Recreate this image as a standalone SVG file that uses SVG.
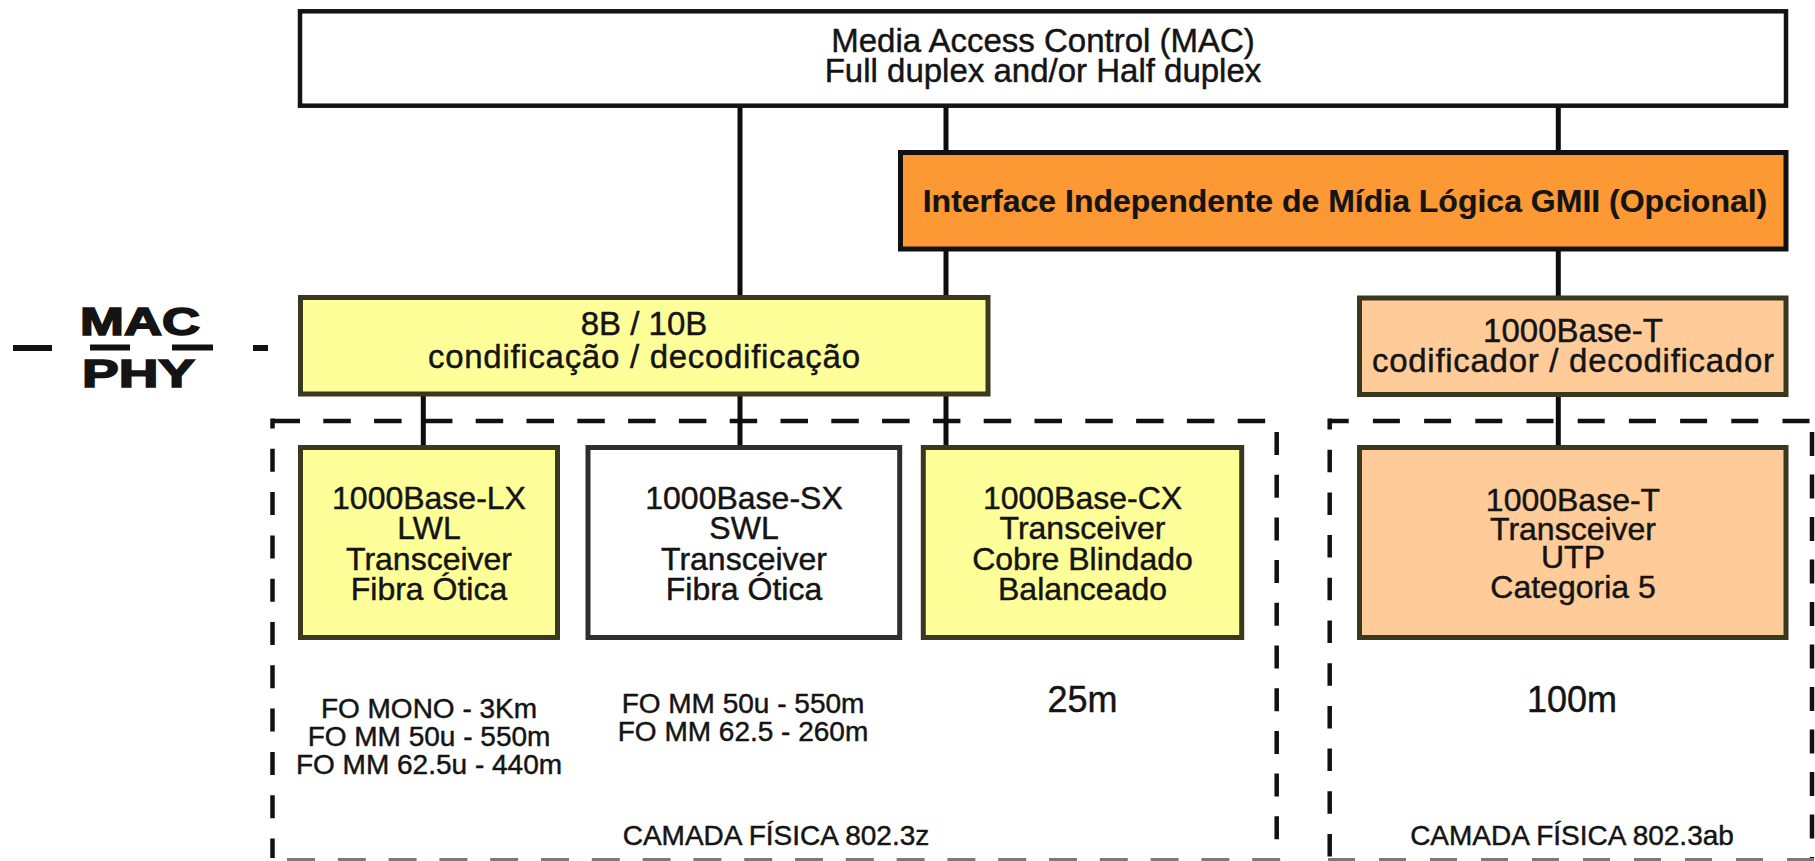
<svg xmlns="http://www.w3.org/2000/svg" width="1815" height="861" viewBox="0 0 1815 861">
  <style>
    text { font-family: "Liberation Sans", Arial, sans-serif; fill: #141414; stroke: #141414; stroke-width: 0.45; text-anchor: middle; }
    .box { stroke-width: 5; }
    .mac { fill: #ffffff; stroke: #141414; stroke-width: 4.5; }
    .gmii { fill: #fd9934; stroke: #111111; }
    .yellow { fill: #ffff99; stroke: #3b3820; }
    .peach { fill: #ffcc99; stroke: #3b3820; }
    .white { fill: #ffffff; stroke: #2e2e2e; }
    .t28 { font-size: 28px; }
    .t32 { font-size: 32px; }
    .t33 { font-size: 33px; }
    .t36 { font-size: 36px; }
    .bold { font-weight: bold; stroke-width: 0.2; }
    .heavy { font-weight: bold; font-size: 38px; stroke-width: 1.6; }
    .link { stroke: #0d0d0d; stroke-width: 5; fill: none; }
    .frame { stroke: #111111; stroke-width: 4.5; fill: none; }
    .frame-edge { stroke: #7a7a7a; stroke-width: 4; fill: none; }
    .sep { fill: #111111; }
  </style>

  <!-- MAC / PHY boundary label -->
  <g id="mac-phy-label">
    <text x="140" y="335" class="heavy" textLength="120" lengthAdjust="spacingAndGlyphs">MAC</text>
    <text x="138.5" y="387" class="heavy" textLength="113" lengthAdjust="spacingAndGlyphs">PHY</text>
    <rect class="sep" x="13" y="345" width="39" height="6"/>
    <rect class="sep" x="90" y="344.5" width="40" height="6"/>
    <rect class="sep" x="172" y="344.5" width="41" height="6"/>
    <rect class="sep" x="253" y="345" width="15" height="6"/>
  </g>

  <!-- physical layer frames (dashed) -->
  <g id="layer-802-3z">
    <path class="frame" d="M272.5 421 H1266" stroke-dasharray="27.5 23.3"/>
    <path class="frame" d="M272.5 418.5 V858" stroke-dasharray="23 20.3" stroke-dashoffset="13"/>
    <path class="frame" d="M1276.7 432 V858" stroke-dasharray="23 19.7"/>
    <path class="frame-edge" d="M287 860 H1281" stroke-dasharray="28 22.8"/>
    <text x="776" y="845" class="t28">CAMADA FÍSICA 802.3z</text>
  </g>
  <g id="layer-802-3ab">
    <path class="frame" d="M1329.7 421 H1815" stroke-dasharray="27 24.2" stroke-dashoffset="8"/>
    <path class="frame" d="M1329.7 418.5 V858" stroke-dasharray="22.5 20.2" stroke-dashoffset="11.5"/>
    <path class="frame" d="M1812 432 V858" stroke-dasharray="24 18.5"/>
    <path class="frame-edge" d="M1328 860 H1815" stroke-dasharray="27 24"/>
    <text x="1572" y="845" class="t28">CAMADA FÍSICA 802.3ab</text>
  </g>

  <!-- connectors -->
  <g id="connectors">
    <path class="link" d="M423.3 394 V447"/>
    <path class="link" d="M740 107 V447"/>
    <path class="link" d="M946 107 V447"/>
    <path class="link" d="M1558.3 107 V447"/>
  </g>

  <g id="mac">
    <rect class="mac" x="300" y="11.3" width="1486" height="94.4"/>
    <text x="1043" y="52" class="t33">Media Access Control (MAC)</text>
    <text x="1043" y="82" class="t33">Full duplex and/or Half duplex</text>
  </g>

  <g id="gmii">
    <rect class="box gmii" x="900.5" y="152.5" width="885.5" height="96.5"/>
    <text x="1345" y="212" class="bold" style="font-size:32px">Interface Independente de Mídia Lógica GMII (Opcional)</text>
  </g>

  <g id="pcs-8b10b">
    <rect class="box yellow" x="300.5" y="297.5" width="687.5" height="96.5"/>
    <text x="644" y="335" class="t33">8B / 10B</text>
    <text x="644" y="368" class="t33" textLength="432">condificação / decodificação</text>
  </g>

  <g id="pcs-1000base-t">
    <rect class="box peach" x="1359.5" y="298" width="426.5" height="96.5"/>
    <text x="1573" y="342" class="t33">1000Base-T</text>
    <text x="1573" y="372" class="t33" textLength="402">codificador / decodificador</text>
  </g>

  <g id="lx">
    <rect class="box yellow" x="300.5" y="447.5" width="257" height="190"/>
    <text x="429" y="509" class="t32">1000Base-LX</text>
    <text x="429" y="539" class="t32">LWL</text>
    <text x="429" y="570" class="t32">Transceiver</text>
    <text x="429" y="600" class="t32">Fibra Ótica</text>
    <text x="429" y="718" class="t28">FO MONO - 3Km</text>
    <text x="429" y="746" class="t28">FO MM 50u - 550m</text>
    <text x="429" y="774" class="t28">FO MM 62.5u - 440m</text>
  </g>

  <g id="sx">
    <rect class="box white" x="588" y="447.5" width="311.7" height="190"/>
    <text x="744" y="509" class="t32">1000Base-SX</text>
    <text x="744" y="539" class="t32">SWL</text>
    <text x="744" y="570" class="t32">Transceiver</text>
    <text x="744" y="600" class="t32">Fibra Ótica</text>
    <text x="743" y="713" class="t28">FO MM 50u - 550m</text>
    <text x="743" y="741" class="t28">FO MM 62.5 - 260m</text>
  </g>

  <g id="cx">
    <rect class="box yellow" x="923.3" y="447.5" width="318.4" height="190"/>
    <text x="1082.5" y="509" class="t32">1000Base-CX</text>
    <text x="1082.5" y="539" class="t32">Transceiver</text>
    <text x="1082.5" y="570" class="t32">Cobre Blindado</text>
    <text x="1082.5" y="600" class="t32">Balanceado</text>
    <text x="1082.5" y="712" class="t36">25m</text>
  </g>

  <g id="t">
    <rect class="box peach" x="1359.5" y="447.5" width="426.5" height="190"/>
    <text x="1573" y="511" class="t32">1000Base-T</text>
    <text x="1573" y="540" class="t32">Transceiver</text>
    <text x="1573" y="568" class="t32">UTP</text>
    <text x="1573" y="598" class="t32">Categoria 5</text>
    <text x="1572" y="712" class="t36">100m</text>
  </g>
</svg>
